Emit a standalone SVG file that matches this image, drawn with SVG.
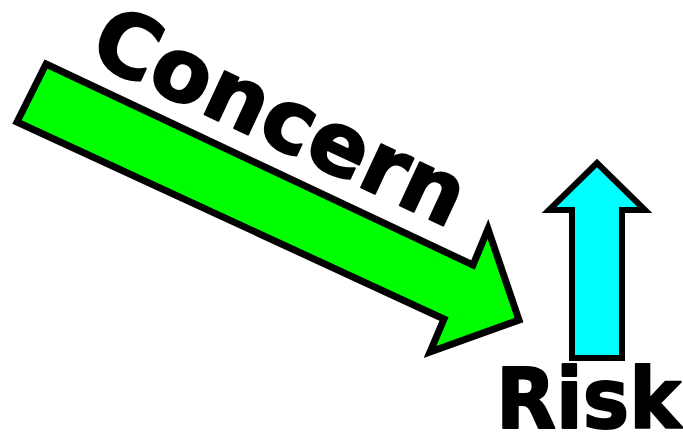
<svg xmlns="http://www.w3.org/2000/svg" width="683" height="437" viewBox="0 0 683 437">
<style>
.arrow{stroke:#000;stroke-linejoin:miter;stroke-miterlimit:10}
.lbl{font-family:"DejaVu Sans",Verdana,sans-serif;font-weight:bold;fill:#000;stroke:#000;stroke-width:2;stroke-linejoin:round}
</style>
<rect width="683" height="437" fill="#fff"/>
<g id="concern-arrow">
<polygon class="arrow" fill="#00ff00" stroke-width="7" points="46,64 473,265 488,229 519,320 430,352 444,319 17,122"/>
<text class="lbl" font-size="87" transform="translate(86,59) rotate(25)">Concern</text>
</g>
<g id="risk-arrow">
<polygon class="arrow" fill="#00ffff" stroke-width="6" points="597,163 645,210 622,210 622,358 572,358 572,210 549,210"/>
<text class="lbl" font-size="84" x="496" y="428" textLength="185" lengthAdjust="spacingAndGlyphs">Risk</text>
</g>
<g id="connectors"/>
</svg>
